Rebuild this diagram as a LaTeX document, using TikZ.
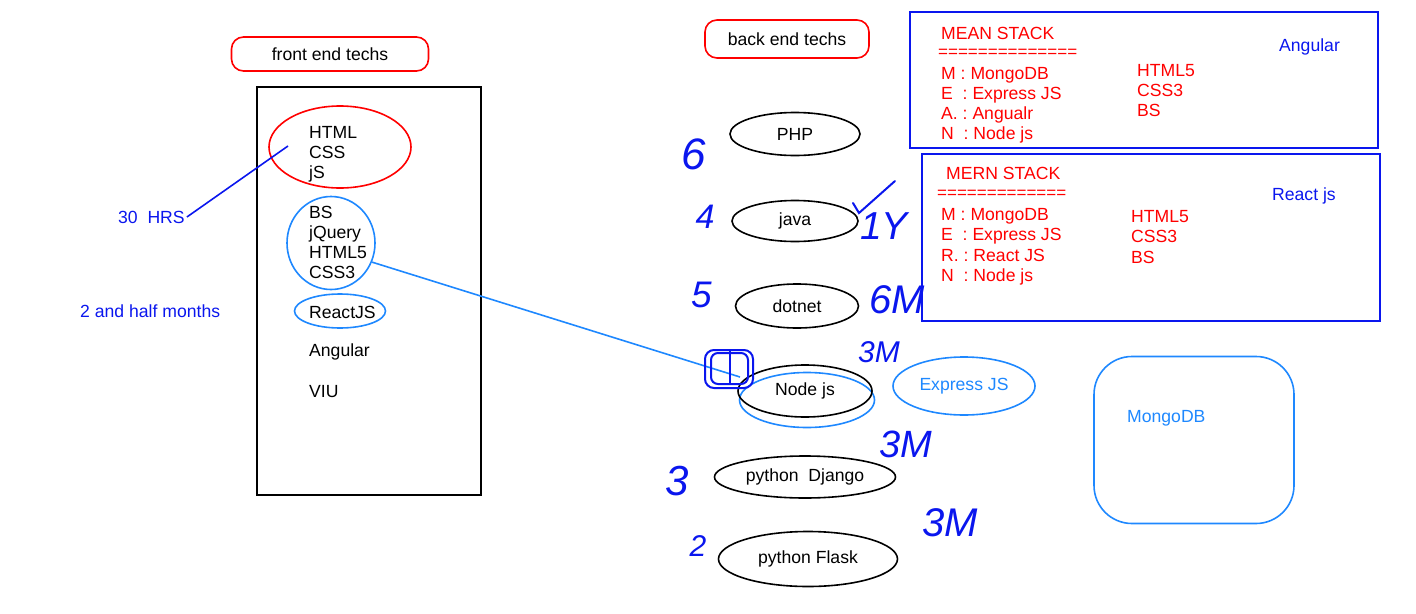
\documentclass[tikz,border=0pt]{standalone}
\usepackage{fontspec}
\setmainfont{Liberation Sans}
\usetikzlibrary{shapes.geometric}
\definecolor{handblue}{RGB}{10,22,238}
\definecolor{skyblue}{RGB}{30,136,255}
\frenchspacing
\tikzset{
  txt/.style={inner sep=0pt, align=left, anchor=north west, font=\fontsize{17.6}{20}\selectfont},
  oval/.style={ellipse, draw, line width=1.6pt, inner sep=1pt, font=\fontsize{17.6}{20}\selectfont},
  tag/.style={draw=red, rounded corners=12pt, line width=1.6pt, font=\fontsize{17.6}{20}\selectfont},
  stackbox/.style={draw=handblue, line width=1.8pt},
  hand/.style={text=handblue, inner sep=0pt, font=\fontsize{#1}{#1}\selectfont\itshape},
}
\begin{document}
\begin{tikzpicture}[x=1pt, y=-1pt]
			%%%%% START %%%%%
			\useasboundingbox (0,0) rectangle (1416,613);
			
			% front end
			\node[tag, minimum width=197pt, minimum height=34pt] (fronttag) at (330,54) {front end techs};
			\node[draw, line width=1.6pt, minimum width=224pt, minimum height=408pt] (frontbox) at (369,291) {};
			
			\node[ellipse, draw=red, line width=1.6pt, minimum width=142pt, minimum height=82pt] (basics) at (340,147) {};
			\node[txt] (basicstxt) at (309,126) {HTML\\CSS\\jS};
			
			\node[ellipse, draw=skyblue, line width=1.6pt, minimum width=88pt, minimum height=93pt] (extras) at (331,243) {};
			\node[txt] (extrastxt) at (309,206) {BS\\jQuery\\HTML5\\CSS3};
			
			\node[ellipse, draw=skyblue, line width=1.6pt, minimum width=91pt, minimum height=34pt] (react) at (340,311) {};
			\node[txt, anchor=west] (reacttxt) at (309,312) {ReactJS};
			\node[txt, anchor=west] (angtxt) at (309,352) {Angular};
			\node[txt, anchor=west] (viutxt) at (309,392) {VIU};
			
			\node[txt, anchor=west, text=handblue] (hrs) at (118,217) {30\ \ HRS};
			\node[txt, anchor=west, text=handblue] (duration) at (80,311) {2 and half months};
			\coordinate (basicsin) at (288,146);
			\draw[handblue, line width=1.6pt] ([xshift=2pt]hrs.east) -- (basicsin);
			
			% back end
			\node[tag, minimum width=164pt, minimum height=38pt] (backtag) at (787,39) {back end techs};
			\node[oval, minimum width=130pt, minimum height=43pt] (php) at (795,134) {PHP};
			\node[oval, minimum width=126pt, minimum height=41pt] (java) at (795,221) {java};
			\node[oval, minimum width=123pt, minimum height=44pt] (dotnet) at (797,306) {dotnet};
			\node[oval, draw=skyblue, minimum width=135pt, minimum height=55pt] (nodering) at (807,400) {};
			\node[oval, minimum width=134pt, minimum height=52pt] (nodejs) at (805,391) {Node js};
			\node[oval, minimum width=181pt, minimum height=42pt] (django) at (805,477) {python\ \ Django};
			\node[oval, minimum width=179pt, minimum height=55pt] (flask) at (808,559) {python Flask};
			
			\node[oval, draw=skyblue, text=skyblue, minimum width=142pt, minimum height=58pt] (express) at (964,386) {Express JS};
			\node[draw=skyblue, line width=1.6pt, rounded corners=38pt, minimum width=200pt, minimum height=167pt] (mongo) at (1194,440) {};
			\node[txt, anchor=west, text=skyblue] (mongotxt) at (1127,418) {MongoDB};
			
			\coordinate (scribble) at (740,377);
			\draw[skyblue, line width=1.6pt] (extras.-25) -- (scribble);
			
			% MEAN stack
			\node[stackbox, minimum width=468pt, minimum height=136pt] (meanbox) at (1144,80) {};
			\node[txt, anchor=west, text=red] (meantitle) at (941,33) {MEAN STACK};
			\node[txt, anchor=west, text=red, font=\fontsize{17}{20}\selectfont] (meanrule) at (938,53) {==============};
			\node[txt, text=red] (meanlist) at (941,67) {M : MongoDB\\E\ \ : Express JS\\A. : Angualr\\N\ \ : Node js};
			\node[txt, text=red] (meanfront) at (1137,64) {HTML5\\CSS3\\BS};
			\node[txt, anchor=west, text=handblue] (meanng) at (1279,47) {Angular};
			
			% MERN stack
			\node[stackbox, minimum width=458pt, minimum height=167pt] (mernbox) at (1151,237.5) {};
			\node[txt, anchor=west, text=red] (merntitle) at (946,173) {MERN STACK};
			\node[txt, anchor=west, text=red, font=\fontsize{17}{20}\selectfont] (mernrule) at (937,194) {=============};
			\node[txt, text=red, font=\fontsize{17.6}{20.5}\selectfont] (mernlist) at (941,208) {M : MongoDB\\E\ \ : Express JS\\R. : React JS\\N\ \ : Node js};
			\node[txt, text=red, font=\fontsize{17.6}{20.5}\selectfont] (mernfront) at (1131,210) {HTML5\\CSS3\\BS};
			\node[txt, anchor=west, text=handblue] (mernreact) at (1272,196) {React js};
			
			% pen marks
			\draw[handblue, line width=2pt, rounded corners=9pt] (705,350) rectangle (753,388);
			\draw[handblue, line width=2pt, rounded corners=7pt] (711,353) rectangle (748,384);
			\draw[handblue, line width=2pt] (730,350) -- (730,385);
			\draw[handblue, line width=2pt, line cap=round] (853,203) -- (859,213) -- (895,181);
			
			\node[hand=44] (phpyrs) at (694,154) {6};
			\node[hand=34] (javayrs) at (705,217) {4};
			\node[hand=37] (dotnetyrs) at (702,295) {5};
			\node[hand=42] (djangoyrs) at (677,481) {3};
			\node[hand=30] (flaskyrs) at (698,546) {2};
			\node[hand=39] (javatime) at (884,226) {1Y};
			\node[hand=40] (dotnettime) at (897,300) {6M};
			\node[hand=30] (nodetime) at (879,352) {3M};
			\node[hand=38] (djangotime) at (906,444) {3M};
			\node[hand=40] (flasktime) at (950,523) {3M};
			
			%%%%% END %%%%%
\end{tikzpicture}
\end{document}
